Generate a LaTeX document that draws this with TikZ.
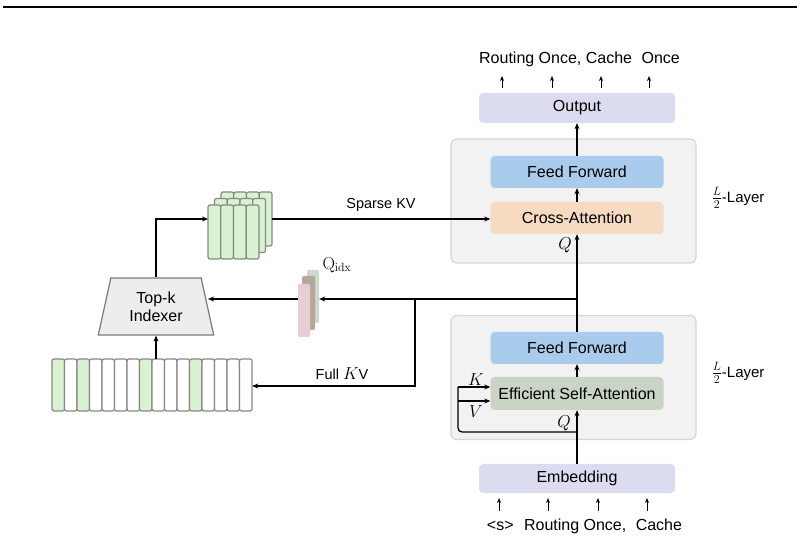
\documentclass[tikz,border=0pt]{standalone}
\usepackage[no-math]{fontspec}
\setmainfont{Liberation Sans}
\usetikzlibrary{arrows.meta,shapes.geometric}
\definecolor{lav}{HTML}{DCDCF0}
\definecolor{contfill}{HTML}{F1F2F1}
\definecolor{contdraw}{HTML}{D6D6D6}
\definecolor{ffblue}{HTML}{A9CCEC}
\definecolor{capeach}{HTML}{F6DAC1}
\definecolor{esagreen}{HTML}{C9D4C5}
\definecolor{colgreen}{HTML}{D9F2D0}
\definecolor{colgray}{HTML}{888888}
\definecolor{qback}{HTML}{CDD9CD}
\definecolor{qmid}{HTML}{B5A898}
\definecolor{qfront}{HTML}{E6CED3}
\begin{document}
\begin{tikzpicture}[x=1pt,y=-1pt,
  font=\fontsize{16}{19}\selectfont,
  >={Stealth[length=6pt,width=5pt]},
  conn/.style={line width=1.3pt},
  blk/.style={rounded corners=4pt, inner sep=0pt, minimum width=173pt, minimum height=32pt},
  ioblk/.style={rounded corners=4pt, inner sep=0pt, fill=lav, minimum width=196pt, minimum height=30pt},
  cont/.style={rounded corners=6pt, draw=contdraw, fill=contfill, line width=1.2pt, inner sep=0pt, minimum width=245pt, minimum height=124pt},
  col/.style={rounded corners=2pt, draw=colgray, line width=1.2pt},
  lbl/.style={font=\fontsize{14.5}{17}\selectfont, inner sep=0pt},
  mlbl/.style={font=\fontsize{17}{19}\selectfont, inner sep=0pt},
  laylbl/.style={font=\fontsize{15}{17}\selectfont, inner sep=0pt},
]
\useasboundingbox (0,0) rectangle (804,545);
% top rule
\draw[line width=2.2pt] (3,7) -- (797,7);

% containers
\node[cont] (c1) at (573.5,201) {};
\node[cont] (c2) at (573.5,377.5) {};

% blocks
\node[ioblk] (out) at (577,108) {Output};
\node[blk, fill=ffblue] (ff1) at (577,172) {Feed Forward};
\node[blk, fill=capeach] (ca) at (577,218) {Cross-Attention};
\node[blk, fill=ffblue] (ff2) at (577,348) {Feed Forward};
\node[blk, fill=esagreen, minimum height=33pt] (esa) at (577,393.5) {Efficient Self-Attention};
\node[ioblk, minimum height=29pt] (emb) at (577,478.5) {Embedding};

% main vertical arrows
\draw[conn,->] (ff1) -- (out);
\draw[conn,->] (ca) -- (ff1);
\draw[conn,->] (ff2) -- (ca);
\draw[conn,->] (esa) -- (ff2);
\draw[conn,->] (emb) -- (esa);

% labels Q, layers
\node[mlbl] (q1) at (565,245) {$Q$};
\node[mlbl] (q2) at (564,423) {$Q$};
\node[mlbl] (kl) at (476,380) {$K$};
\node[mlbl] (vl) at (476,412) {$V$};
\node[laylbl] (lay1) at (738,198) {{\fontsize{17}{19}\selectfont$\frac{L}{2}$}-Layer};
\node[laylbl] (lay2) at (738,373) {{\fontsize{17}{19}\selectfont$\frac{L}{2}$}-Layer};

% K V loop
\coordinate (j4) at (577,432);
\coordinate (lk) at (458,387);
\coordinate (lv) at (458,401);
\draw[conn, rounded corners=4pt] (j4) -| (lk);
\draw[conn,->] (lk) -- (lk -| esa.west);
\draw[conn,->] (lv) -- (lv -| esa.west);

% top texts and arrows
\node[inner sep=0pt] (toptext) at (579.5,59) {Routing Once, Cache\hspace{5pt} Once};
\foreach \x [count=\i] in {502,552,601,649}{
  \coordinate (ta\i) at (\x,88);
  \draw[line width=1pt,-{Stealth[length=5pt,width=4pt]}] (ta\i) -- ++(0,-12);
}
\node[inner sep=0pt] (bottext) at (584.5,526) {<s>\hspace{6pt} Routing Once,\hspace{5pt} Cache};
\foreach \x [count=\i] in {499,548,598,647}{
  \coordinate (ba\i) at (\x,511);
  \draw[line width=1pt,-{Stealth[length=5pt,width=4pt]}] (ba\i) -- ++(0,-13);
}

% Q_idx stack
\node[rounded corners=2pt, fill=qback, minimum width=12pt, minimum height=53pt, inner sep=0pt] (qb) at (313,296.5) {};
\node[rounded corners=2pt, fill=qmid, minimum width=13pt, minimum height=54pt, inner sep=0pt] (qm) at (308.5,303) {};
\node[rounded corners=2pt, fill=qfront, minimum width=12pt, minimum height=53pt, inner sep=0pt] (qf) at (304,310.5) {};
\node[font=\fontsize{18}{20}\selectfont, inner sep=0pt] (qidx) at (337,265) {$\mathrm{Q}_{\mathrm{idx}}$};

% Top-k indexer
\node[trapezium, trapezium stretches=true, trapezium left angle=76, trapezium right angle=76,
  minimum width=116pt, minimum height=57pt, draw=colgray!90!black, fill=black!7, line width=1.2pt,
  align=center, inner sep=0pt] (idx) at (156,306.5) {Top-k\\[-1pt]Indexer};

% branch to Q_idx and indexer
\coordinate (j1) at (577,299);
\draw[conn,->] (j1) -- (j1 -| qb.east);
\draw[conn,->] (qf.west |- j1) -- (j1 -| idx.east);

% Full KV strip
\node[minimum width=200pt, minimum height=52pt, inner sep=0pt] (kv) at (152,385) {};
\foreach \i in {0,...,15}{
  \pgfmathsetmacro{\xa}{52+12.5*\i}
  \ifnum\i=0 \def\cf{colgreen}\else\ifnum\i=2 \def\cf{colgreen}\else\ifnum\i=7 \def\cf{colgreen}\else\ifnum\i=11 \def\cf{colgreen}\else\def\cf{white}\fi\fi\fi\fi
  \draw[col, fill=\cf] (\xa,359) rectangle ++(12.5,52);
}
\coordinate (j2) at (415,299);
\coordinate (j3) at (415,386);
\draw[conn,->] (j2) -- (j3) -- (j3 -| kv.east);
\node[lbl] (fkv) at (342,374) {Full {\fontsize{16}{18}\selectfont$K$}V};
\draw[conn,->] (idx.south |- kv.north) -- (idx.south);

% Sparse KV stacks
\node[minimum width=51pt, minimum height=54pt, inner sep=0pt] (spb) at (246.5,219) {};
\node[minimum width=51pt, minimum height=54pt, inner sep=0pt] (spm) at (240,225.5) {};
\node[minimum width=51pt, minimum height=54pt, inner sep=0pt] (spf) at (233.5,232) {};
\foreach \ox/\oy in {221/192, 214.5/198.5, 208/205}{
  \foreach \i in {0,...,3}{
    \draw[col, fill=colgreen] (\ox+12.75*\i,\oy) rectangle ++(12.75,54);
  }
}
\coordinate (sin) at (208,219);
\draw[conn,->] (idx.north) |- (sin);
\draw[conn,->] (spb.east) -- (spb.east -| ca.west);
\node[lbl] (skv) at (381,205) {Sparse KV};
\end{tikzpicture}
\end{document}
